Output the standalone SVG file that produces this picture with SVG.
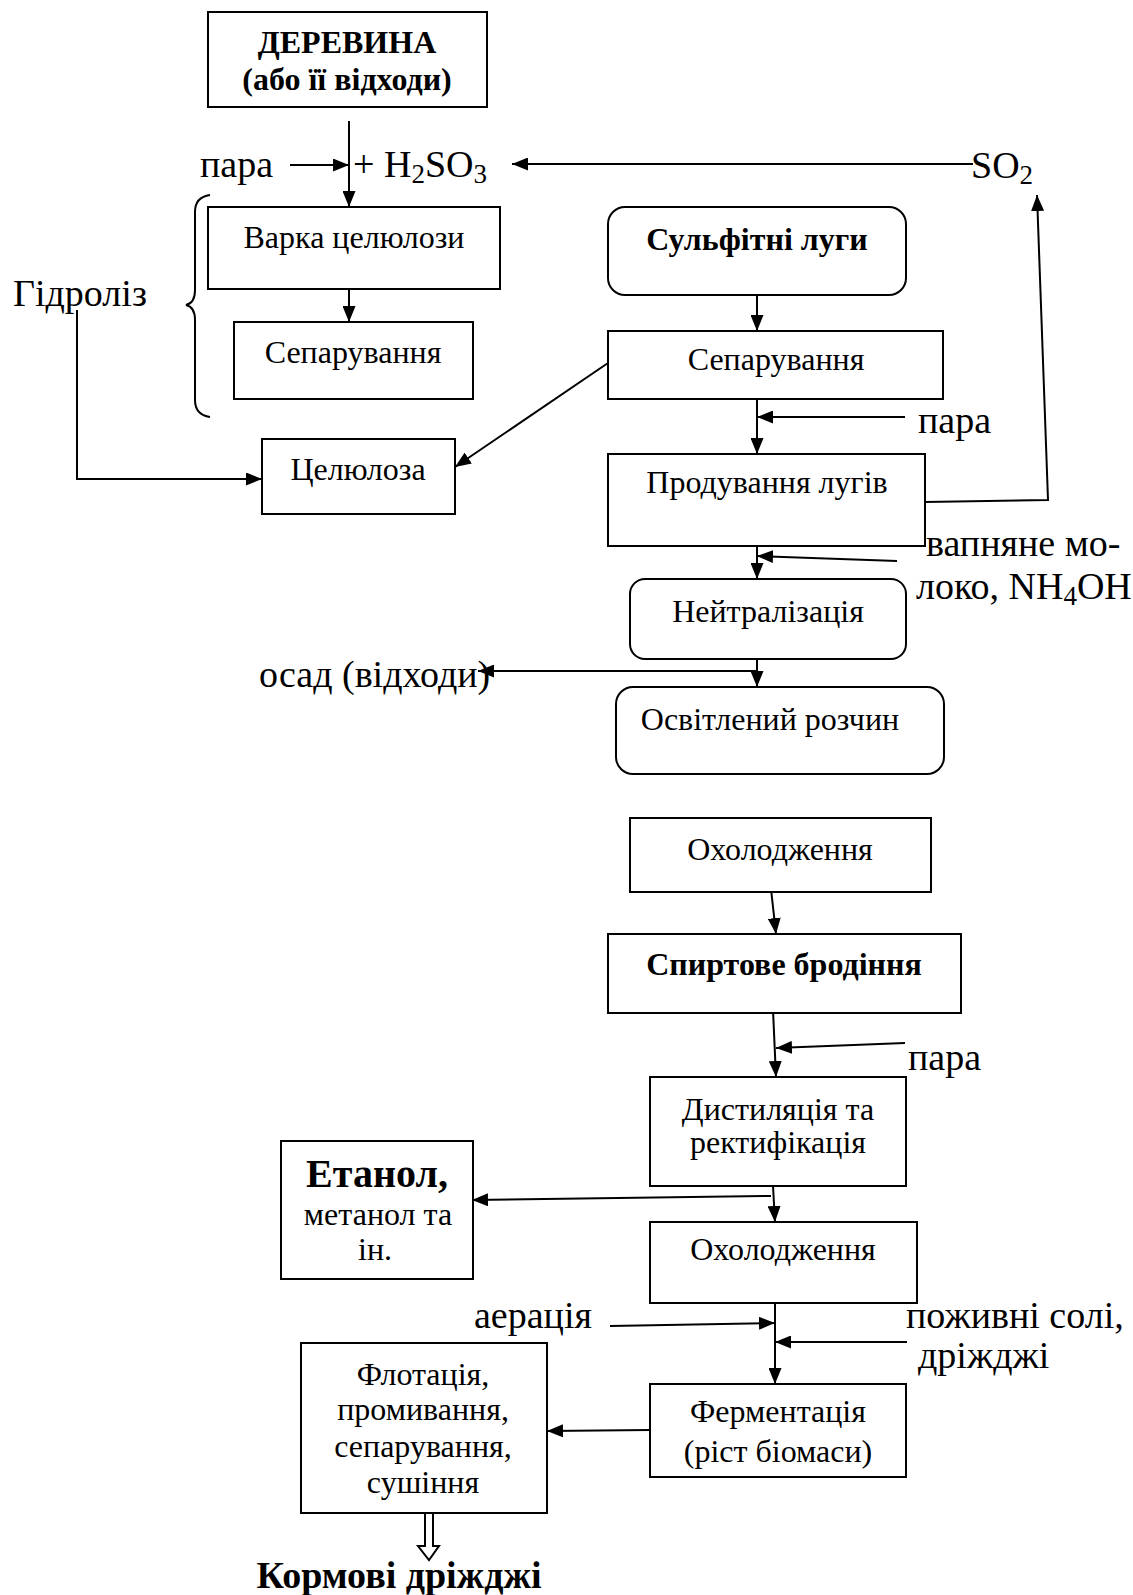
<svg xmlns="http://www.w3.org/2000/svg" width="1133" height="1595" viewBox="0 0 1133 1595">
<style>
.box{fill:#fff;stroke:#000;stroke-width:2}
.t{font-family:"Liberation Serif","Times New Roman",serif;font-size:32px;fill:#000;text-anchor:middle}
.b{font-weight:bold}
.big{font-size:40px}
.kd{font-size:38px}
.l{font-family:"Liberation Serif","Times New Roman",serif;font-size:38px;fill:#000}
.c{fill:none;stroke:#000;stroke-width:2}
.a{marker-end:url(#ah)}
</style>
<defs>
<marker id="ah" markerUnits="userSpaceOnUse" markerWidth="17" markerHeight="13" refX="16" refY="6.5" orient="auto">
<path d="M0,0 L16,6.5 L0,13 Z" fill="#000"/>
</marker>
</defs>
<rect width="1133" height="1595" fill="#fff"/>
<g id="connectors">
<line class="c a" x1="349" y1="121" x2="349" y2="207"/>
<line class="c a" x1="290" y1="165" x2="349" y2="165"/>
<line class="c a" x1="973" y1="164" x2="512" y2="164"/>
<line class="c a" x1="349" y1="289" x2="349" y2="322"/>
<polyline class="c a" points="77,310 77,479 262,479"/>
<line class="c a" x1="608" y1="363" x2="455" y2="467"/>
<line class="c a" x1="757" y1="295" x2="757" y2="331"/>
<line class="c a" x1="757" y1="399" x2="757" y2="454"/>
<line class="c a" x1="905" y1="417" x2="757" y2="417"/>
<polyline class="c a" points="925,502 1048,500 1037,195"/>
<line class="c a" x1="757" y1="546" x2="757" y2="579"/>
<line class="c a" x1="897" y1="561" x2="757" y2="556"/>
<line class="c a" x1="757" y1="659" x2="757" y2="687"/>
<line class="c a" x1="757" y1="671" x2="478" y2="671"/>
<line class="c a" x1="771" y1="889" x2="776" y2="934"/>
<line class="c a" x1="773" y1="1010" x2="776" y2="1077"/>
<line class="c a" x1="905" y1="1043" x2="776" y2="1048"/>
<line class="c a" x1="773" y1="1186" x2="775" y2="1222"/>
<line class="c a" x1="771" y1="1196" x2="472" y2="1200"/>
<line class="c a" x1="775" y1="1303" x2="775" y2="1384"/>
<line class="c a" x1="610" y1="1326" x2="775" y2="1323"/>
<line class="c a" x1="907" y1="1342" x2="775" y2="1342"/>
<line class="c a" x1="650" y1="1430" x2="547" y2="1431"/>
<polygon class="c" points="425,1513 433,1513 433,1546 439,1546 429,1560 418,1546 425,1546" stroke-width="1.5"/>
<path class="c" d="M210,195 Q195,197 195,212 L195,290 Q195,303 186,305 Q195,307 195,320 L195,400 Q195,415 210,417"/>
</g>
<g id="derevyna"><rect class="box" x="208" y="12" width="279" height="95"/>
<text class="t b" x="347" y="53">ДЕРЕВИНА</text><text class="t b" x="347" y="90">(або її відходи)</text></g>
<g id="varka"><rect class="box" x="208" y="207" width="292" height="82"/><text class="t" x="354" y="248">Варка целюлози</text></g>
<g id="separ1"><rect class="box" x="234" y="322" width="239" height="77"/><text class="t" x="353" y="363">Сепарування</text></g>
<g id="celuloza"><rect class="box" x="262" y="439" width="193" height="75"/><text class="t" x="358" y="480">Целюлоза</text></g>
<g id="sulfit"><rect class="box" x="608" y="207" width="298" height="88" rx="17"/><text class="t b" x="757" y="250">Сульфітні луги</text></g>
<g id="separ2"><rect class="box" x="608" y="331" width="335" height="68"/><text class="t" x="776" y="370">Сепарування</text></g>
<g id="produv"><rect class="box" x="608" y="454" width="317" height="92"/><text class="t" x="767" y="493">Продування лугів</text></g>
<g id="neitr"><rect class="box" x="630" y="579" width="276" height="80" rx="15"/><text class="t" x="768" y="622">Нейтралізація</text></g>
<g id="osvitl"><rect class="box" x="616" y="687" width="328" height="87" rx="17"/><text class="t" x="770" y="730">Освітлений розчин</text></g>
<g id="oholod1"><rect class="box" x="630" y="818" width="301" height="74"/><text class="t" x="780" y="860">Охолодження</text></g>
<g id="spirt"><rect class="box" x="608" y="934" width="353" height="79"/><text class="t b" x="784" y="975">Спиртове бродіння</text></g>
<g id="dist"><rect class="box" x="650" y="1077" width="256" height="109"/><text class="t" x="778" y="1120">Дистиляція та</text><text class="t" x="778" y="1153">ректифікація</text></g>
<g id="etanol"><rect class="box" x="281" y="1141" width="192" height="138"/><text class="t b big" x="377" y="1187">Етанол,</text><text class="t" x="378" y="1225">метанол та</text><text class="t" x="375" y="1260">ін.</text></g>
<g id="oholod2"><rect class="box" x="650" y="1222" width="267" height="81"/><text class="t" x="783" y="1260">Охолодження</text></g>
<g id="ferment"><rect class="box" x="650" y="1384" width="256" height="93"/><text class="t" x="778" y="1422">Ферментація</text><text class="t" x="778" y="1462">(ріст біомаси)</text></g>
<g id="flot"><rect class="box" x="301" y="1343" width="246" height="170"/><text class="t" x="423" y="1385">Флотація,</text><text class="t" x="423" y="1420">промивання,</text><text class="t" x="423" y="1457">сепарування,</text><text class="t" x="423" y="1493">сушіння</text></g>
<g id="labels">
<text class="l" x="200" y="177">пара</text>
<text class="l" x="353" y="177">+ H<tspan font-size="27" dy="6">2</tspan><tspan dy="-6">SO</tspan><tspan font-size="27" dy="6">3</tspan></text>
<text class="l" x="971" y="178">SO<tspan font-size="27" dy="6">2</tspan></text>
<text class="l" x="13" y="306">Гідроліз</text>
<text class="l" x="918" y="433">пара</text>
<text class="l" x="926" y="556">вапняне мо-</text>
<text class="l" x="916" y="599">локо, NH<tspan font-size="27" dy="6">4</tspan><tspan dy="-6">OH</tspan></text>
<text class="l" x="259" y="687">осад (відходи)</text>
<text class="l" x="908" y="1070">пара</text>
<text class="l" x="474" y="1328">аерація</text>
<text class="l" x="906" y="1328">поживні солі,</text>
<text class="l" x="918" y="1368">дріжджі</text>
<text class="t b kd" x="399" y="1588">Кормові дріжджі</text>
</g>
</svg>
